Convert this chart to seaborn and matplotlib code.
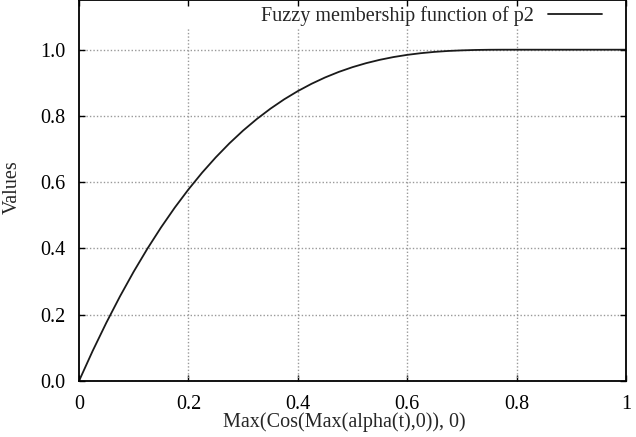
import matplotlib
matplotlib.use('Agg')
import matplotlib.pyplot as plt
import seaborn as sns

# values
x_vals = [0.0, 0.025, 0.05, 0.075, 0.1, 0.125, 0.15, 0.175, 0.2, 0.225, 0.25,
          0.275, 0.3, 0.325, 0.35, 0.375, 0.4, 0.425, 0.45, 0.475, 0.5, 0.525,
          0.55, 0.575, 0.6, 0.625, 0.65, 0.675, 0.7, 0.725, 0.75, 0.775, 0.8,
          0.9, 1.0]
y_vals = [0.0, 0.0909, 0.1760, 0.2557, 0.3301, 0.3993, 0.4636, 0.5232, 0.5781,
          0.6287, 0.6750, 0.7174, 0.7559, 0.7907, 0.8220, 0.8501, 0.8750, 0.8970,
          0.9163, 0.9330, 0.9473, 0.9594, 0.9695, 0.9778, 0.9844, 0.9895, 0.9934,
          0.9962, 0.9980, 0.9992, 0.9998, 1.0, 1.0, 1.0, 1.0]

x_ticks = [0, 0.2, 0.4, 0.6, 0.8, 1.0]
x_tick_labels = ['0', '0.2', '0.4', '0.6', '0.8', '1']
y_ticks = [0.0, 0.2, 0.4, 0.6, 0.8, 1.0]
y_tick_labels = ['0.0', '0.2', '0.4', '0.6', '0.8', '1.0']

series_label = 'Fuzzy membership function of p2'
x_label = 'Max(Cos(Max(alpha(t),0)), 0)'
y_label = 'Values'

sns.set_style('ticks')
plt.rcParams['font.family'] = ['Liberation Serif', 'DejaVu Serif']
plt.rcParams['font.size'] = 14.5

fig = plt.figure(figsize=(6.36, 4.37), dpi=100)
ax = fig.add_axes([79 / 636, 56 / 437, 547 / 636, 381 / 437])

# gnuplot-like dotted grid
grid_kw = dict(color='#999999', linestyle=(0, (1, 1.5)), linewidth=1.0)
ax.grid(axis='y', **grid_kw)
for xt in x_ticks[1:-1]:
    ax.axvline(xt, ymax=0.93, **grid_kw)
ax.set_axisbelow(True)

sns.lineplot(x=x_vals, y=y_vals, ax=ax, color='#1a1a1a', linewidth=1.3,
             label=series_label)

ax.set_xlim(0, 1)
ax.set_ylim(0, 1.15)
ax.set_xticks(x_ticks)
ax.set_xticklabels(x_tick_labels)
ax.set_yticks(y_ticks)
ax.set_yticklabels(y_tick_labels)
ax.tick_params(direction='in', length=4.5, width=1, top=True, right=True,
               pad=10, labelsize=14.5, colors='black')

for sp in ax.spines.values():
    sp.set_color('black')
    sp.set_linewidth(1.3)

ax.set_xlabel(x_label, fontsize=14.5)
ax.set_ylabel(y_label, fontsize=14.5)
ax.xaxis.set_label_coords(0.485, -0.082)
ax.yaxis.set_label_coords(-0.104, 0.51)

ax.legend(loc='center right', bbox_to_anchor=(0.956, 0.958), frameon=False,
          markerfirst=False, handlelength=2.7, handletextpad=0.7,
          borderpad=0, borderaxespad=0, fontsize=14.5)

fig.savefig('out.png', dpi=100)
